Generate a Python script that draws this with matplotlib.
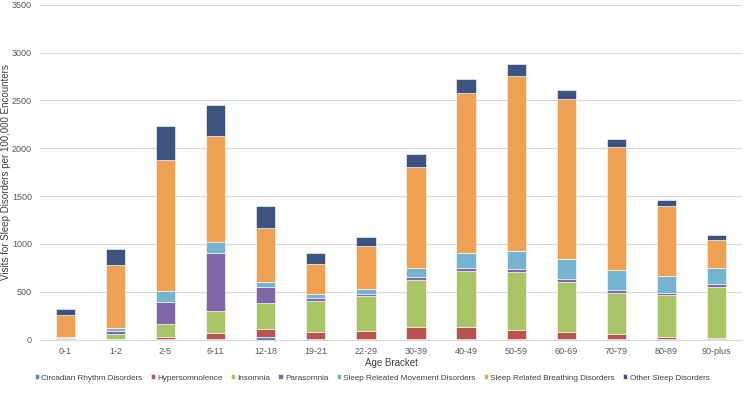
import matplotlib
matplotlib.use("Agg")
import matplotlib.pyplot as plt
import numpy as np

plt.rcParams["font.family"] = ["Liberation Sans", "DejaVu Sans"]

categories = ["0-1", "1-2", "2-5", "6-11", "12-18", "19-21", "22-29", "30-39",
              "40-49", "50-59", "60-69", "70-79", "80-89", "90-plus"]
circadian = [2, 3, 5, 10, 28, 8, 8, 12, 12, 5, 5, 3, 3, 3]
hypersomnolence = [2, 3, 23, 60, 84, 76, 83, 118, 118, 96, 72, 53, 25, 18]
insomnia = [8, 50, 139, 227, 275, 320, 366, 497, 591, 610, 529, 429, 436, 533]
parasomnia = [2, 35, 230, 612, 164, 35, 24, 25, 31, 28, 25, 31, 24, 25]
movement = [10, 28, 109, 112, 52, 39, 46, 100, 154, 188, 209, 212, 181, 173]
breathing = [232, 658, 1369, 1104, 564, 313, 452, 1056, 1672, 1825, 1672, 1289, 728, 290]
other = [67, 168, 355, 328, 233, 118, 97, 136, 143, 132, 101, 80, 60, 49]

series = [
    ("Circadian Rhythm Disorders", circadian, "#5B86C5"),
    ("Hypersomnolence", hypersomnolence, "#BA5350"),
    ("Insomnia", insomnia, "#A8C464"),
    ("Parasomnia", parasomnia, "#8068A8"),
    ("Sleep Releated Movement Disorders", movement, "#74B4D0"),
    ("Sleep Related Breathing Disorders", breathing, "#EEA152"),
    ("Other Sleep Disorders", other, "#3D5481"),
]

fig = plt.figure(figsize=(7.44, 3.95), dpi=100)
ax = fig.add_axes([0.054, 0.140, 0.943, 0.848])

x = np.arange(len(categories))
bottom = np.zeros(len(categories))
for name, vals, col in series:
    v = np.array(vals, dtype=float)
    ax.bar(x, v, bottom=bottom, width=0.385, color=col, label=name,
           edgecolor="white", linewidth=0.4, zorder=3)
    bottom += v

ax.set_ylim(0, 3500)
ax.set_xlim(-0.5, len(categories) - 0.5)
ax.set_yticks(np.arange(0, 3501, 500))
ax.set_xticks(x)
ax.set_xticklabels(categories)
ax.tick_params(axis="both", labelsize=6.5, colors="#595959", length=0)
ax.tick_params(axis="x", pad=5)
ax.tick_params(axis="y", pad=6)
ax.grid(axis="y", color="#D9D9D9", linewidth=0.8, zorder=0)
for s in ["top", "right", "left"]:
    ax.spines[s].set_visible(False)
ax.spines["bottom"].set_color("#D9D9D9")
ax.set_xlabel("Age Bracket", fontsize=7, color="#404040", labelpad=2)
ax.set_ylabel("Visits for Sleep Disorders per 100,000 Encounters", fontsize=7,
              color="#404040")
ax.yaxis.set_label_coords(-0.041, 0.5)

leg = fig.legend(loc="center", bbox_to_anchor=(0.5, 0.043), ncol=7, frameon=False,
                 fontsize=5.9, handlelength=0.5, handleheight=0.5, handletextpad=0.3,
                 columnspacing=1.0, labelcolor="#404040")

fig.savefig("out.png", dpi=100)
